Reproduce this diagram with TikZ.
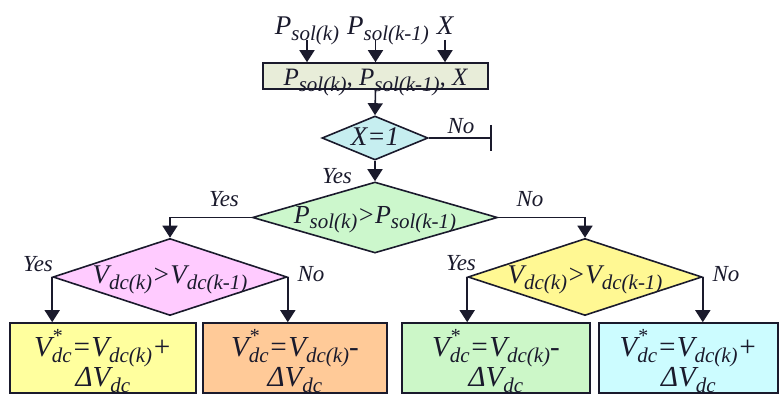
\documentclass[tikz,border=0pt]{standalone}
\usepackage{fontspec}
\setmainfont{Liberation Serif}
\usepackage{tikz}
\usetikzlibrary{arrows.meta,positioning,shapes.geometric}

\definecolor{ink}{HTML}{1A1A2C}
\definecolor{inboxfill}{HTML}{E8EDD9}
\definecolor{xfill}{HTML}{C6EEF0}
\definecolor{pfill}{HTML}{CCF7CC}
\definecolor{vpinkfill}{HTML}{FFCBFF}
\definecolor{vyellowfill}{HTML}{FFF893}
\definecolor{outyellow}{HTML}{FFFF9E}
\definecolor{outorange}{HTML}{FFCA98}
\definecolor{outgreen}{HTML}{CCF7C8}
\definecolor{outcyan}{HTML}{CCFCFF}

\newcommand{\sbs}[1]{\raisebox{-0.45ex}{\fontsize{21}{21}\selectfont #1}}
\newcommand{\sps}[1]{\raisebox{1.05ex}{\fontsize{20}{20}\selectfont #1}}

\tikzset{
  flowarr/.style={-{Triangle[width=15pt,length=12pt]}},
  inlabel/.style={anchor=base,inner sep=1pt,font=\fontsize{27}{28}\selectfont\itshape},
  inbox/.style={draw,fill=inboxfill,minimum width=225pt,minimum height=26pt,inner sep=0pt,
                text height=22pt,text depth=2pt,font=\fontsize{25}{26}\selectfont\itshape},
  dec/.style={diamond,draw,inner sep=0pt},
  declabel/.style={inner sep=0pt,font=\fontsize{27}{28}\selectfont\itshape},
  yesno/.style={inner sep=0pt,font=\fontsize{23}{24}\selectfont\itshape},
  outbox/.style={draw,minimum height=70pt,inner sep=0pt},
  outtext/.style={inner sep=0pt,align=center,yshift=-3pt,
                  font=\fontsize{29}{30}\selectfont\itshape}
}

\begin{document}
\begin{tikzpicture}[x=1pt,y=-1pt,line width=1.6pt,draw=ink,text=ink]
  \useasboundingbox (0,0) rectangle (780,396);

  \node[inlabel] (in1) at (307,35) {P\sbs{sol(k)}};
  \node[inlabel] (in2) at (388,35) {P\sbs{sol(k-1)}};
  \node[inlabel] (in3) at (445,35) {X};

  \node[inbox] (inp) at (375.5,76) {P\sbs{sol(k)}, P\sbs{sol(k-1)}, X};

  \draw[flowarr] ([yshift=-5pt]in1.base) -- (in1.base |- inp.north);
  \draw[flowarr] ([yshift=-5pt]in2.base -| inp.north) -- (inp.north);
  \draw[flowarr] ([yshift=-5pt]in3.base) -- (in3.base |- inp.north);

  \node[dec,fill=xfill,minimum width=106pt,minimum height=44pt,
        label={[declabel,yshift=1pt]center:X=1}] (xdec) at (375,138) {};
  \draw[flowarr] (inp.south) -- (xdec.north);

  \coordinate (stop) at (492,138);
  \draw[-{Bar[width=26pt]}] (xdec.east) -- (stop);
  \node[yesno] (xno) at (461,126) {No};

  \node[dec,fill=pfill,minimum width=245pt,minimum height=71pt,
        label={[declabel,font=\fontsize{26}{27}\selectfont\itshape,yshift=-2pt]center:P\sbs{sol(k)}>P\sbs{sol(k-1)}}] (pdec) at (375,217.5) {};
  \draw[flowarr] (xdec.south) -- (pdec.north);
  \node[yesno] (xyes) at (337,176) {Yes};

  \node[dec,fill=vpinkfill,minimum width=234pt,minimum height=77pt,
        label={[declabel,yshift=-3pt]center:V\sbs{dc(k)}>V\sbs{dc(k-1)}}] (vdecl) at (170,277) {};
  \node[dec,fill=vyellowfill,minimum width=234pt,minimum height=77pt,
        label={[declabel,yshift=-3pt]center:V\sbs{dc(k)}>V\sbs{dc(k-1)}}] (vdecr) at (585,277) {};

  \draw[flowarr] (pdec.west) -| (vdecl.north);
  \draw[flowarr] (pdec.east) -| (vdecr.north);
  \node[yesno] (pyes) at (224,199) {Yes};
  \node[yesno] (pno) at (530,199) {No};

  \node[outbox,fill=outyellow,minimum width=186pt,
        label={[outtext]center:{V\rlap{\sps{*}}\sbs{dc}=V\sbs{dc(k)}+\\ΔV\sbs{dc}}}] (out1) at (103,358) {};
  \node[outbox,fill=outorange,minimum width=184pt,
        label={[outtext]center:{V\rlap{\sps{*}}\sbs{dc}=V\sbs{dc(k)}-\\ΔV\sbs{dc}}}] (out2) at (295,358) {};
  \node[outbox,fill=outgreen,minimum width=188pt,
        label={[outtext]center:{V\rlap{\sps{*}}\sbs{dc}=V\sbs{dc(k)}-\\ΔV\sbs{dc}}}] (out3) at (496,358) {};
  \node[outbox,fill=outcyan,minimum width=179pt,
        label={[outtext]center:{V\rlap{\sps{*}}\sbs{dc}=V\sbs{dc(k)}+\\ΔV\sbs{dc}}}] (out4) at (688.5,358) {};

  \draw[flowarr] (vdecl.west) -- (vdecl.west |- out1.north);
  \draw[flowarr] (vdecl.east) -- (vdecl.east |- out2.north);
  \draw[flowarr] (vdecr.west) -- (vdecr.west |- out3.north);
  \draw[flowarr] (vdecr.east) -- (vdecr.east |- out4.north);

  \node[yesno] (lyes) at (38,264) {Yes};
  \node[yesno] (lno) at (311,274) {No};
  \node[yesno] (ryes) at (461,263) {Yes};
  \node[yesno] (rno) at (726,274) {No};
\end{tikzpicture}
\end{document}
